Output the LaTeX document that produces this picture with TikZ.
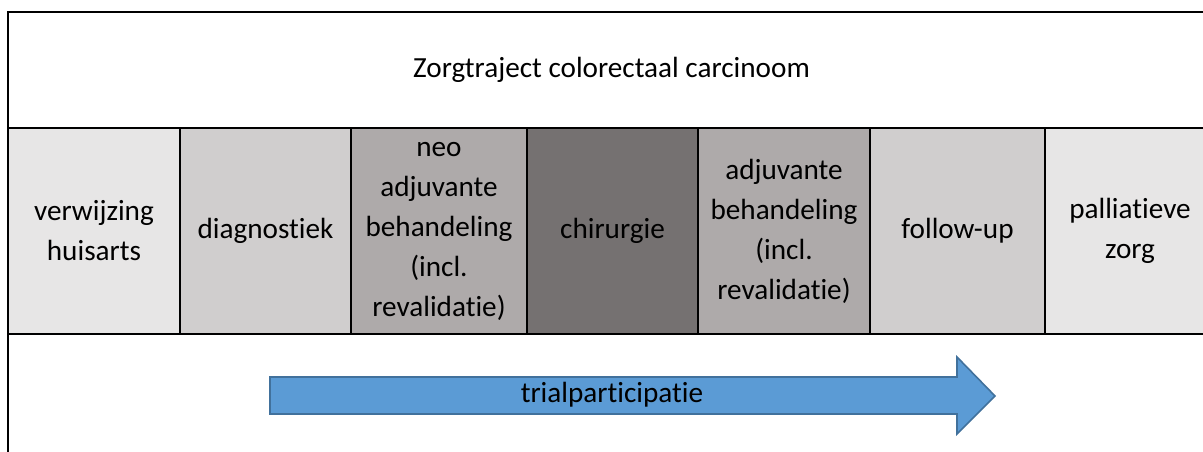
\documentclass[tikz,border=0pt]{standalone}
\usepackage{fontspec}
\setmainfont{Carlito}[Ligatures={NoCommon}]
\usetikzlibrary{positioning}

\definecolor{faseLicht}{HTML}{E7E6E6}
\definecolor{faseGrijs}{HTML}{D0CECE}
\definecolor{faseMidden}{HTML}{AEAAAA}
\definecolor{faseDonker}{HTML}{757171}
\definecolor{trialBlauw}{HTML}{5B9BD5}
\definecolor{trialRand}{HTML}{41719C}

\begin{document}
\begin{tikzpicture}[x=0.75pt, y=-0.75pt,
    font=\fontsize{21.9}{30}\selectfont,
    kader/.style ={draw, line width=1.6pt, inner sep=0pt, outer sep=0pt},
    fase/.style ={kader, minimum height=206*0.75pt, align=center, anchor=north west},
    trialpijl/.style ={fill=trialBlauw, draw=trialRand, line width=1.2pt}]
   \clip (0,0) rectangle (1203,452);

   \node[kader, anchor=north west, minimum width=1207*0.75pt, minimum height=116*0.75pt] (titel) at (8,12) {Zorgtraject colorectaal carcinoom};
   \node[kader, anchor=north west, minimum width=1207*0.75pt, minimum height=240*0.75pt] (onder) at (8,334) {};

   \node[fase, fill=faseLicht, minimum width=172*0.75pt] (verwijzing) at (8,128) {verwijzing\\huisarts};
   \node[fase, fill=faseGrijs, minimum width=171*0.75pt, right=0pt of verwijzing] (diagnostiek) {diagnostiek};
   \node[fase, fill=faseMidden, minimum width=176*0.75pt, right=0pt of diagnostiek] (neo) {neo\\adjuvante\\behandeling\\(incl.\\revalidatie)};
   \node[fase, fill=faseDonker, minimum width=171*0.75pt, right=0pt of neo] (chirurgie) {chirurgie};
   \node[fase, fill=faseMidden, minimum width=172*0.75pt, right=0pt of chirurgie] (adjuvant) {adjuvante\\behandeling\\(incl.\\revalidatie)};
   \node[fase, fill=faseGrijs, minimum width=175*0.75pt, right=0pt of adjuvant] (followup) {follow-up};
   \node[fase, fill=faseLicht, minimum width=170*0.75pt, right=0pt of followup] (palliatief) {palliatieve\\zorg};

   % pijl voor trialparticipatie
   \draw[trialpijl] (270,377) -- (957,377) -- (957,357) -- (995,396) -- (957,434) -- (957,414) -- (270,414) -- cycle;
   \node (trial) at (612,395) {trialparticipatie};
\end{tikzpicture}
\end{document}
